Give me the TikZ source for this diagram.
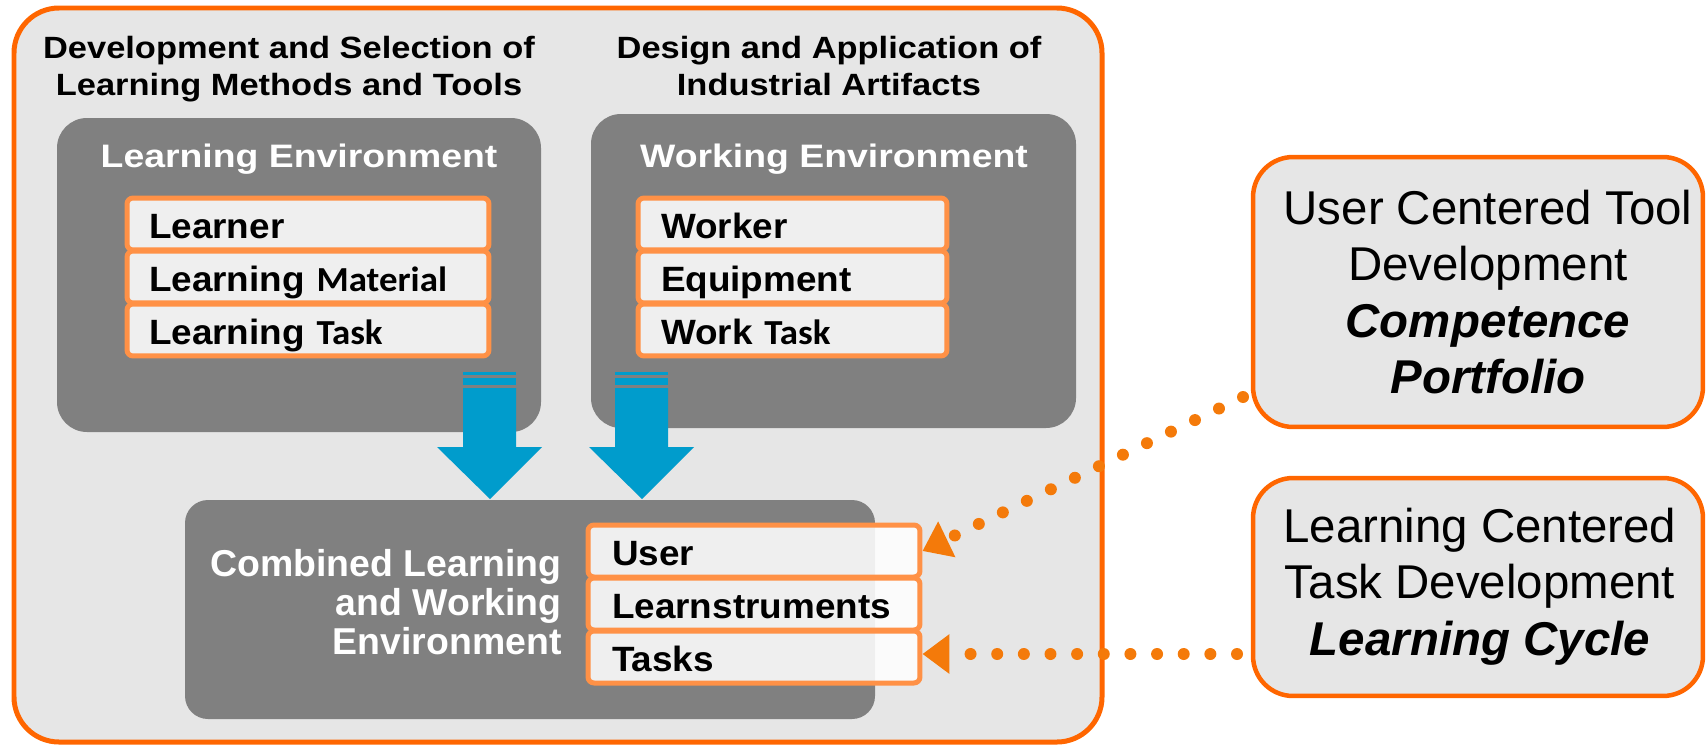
\documentclass[tikz,border=0pt]{standalone}
\usepackage{fontspec}
\setmainfont{Liberation Sans}
\newfontfamily\headsans{Liberation Sans}[FakeStretch=1.12]
\newfontfamily\titlesans{Liberation Sans}[FakeStretch=1.15]
\newfontfamily\itemsans{Liberation Sans}[FakeStretch=1.05]
\newfontfamily\calsans{Carlito}[FakeStretch=1.05]
\usetikzlibrary{arrows.meta}
\definecolor{frameorange}{RGB}{255,102,0}
\definecolor{itemorange}{RGB}{255,145,70}
\definecolor{dotorange}{RGB}{244,122,10}
\definecolor{panelgray}{RGB}{230,230,230}
\definecolor{envgray}{RGB}{128,128,128}
\definecolor{flowblue}{RGB}{0,156,204}

\begin{document}
\begin{tikzpicture}[x=0.02cm,y=-0.02cm,
    header/.style={font=\headsans\bfseries\fontsize{17.5}{21}\selectfont,
        align=center, anchor=north, inner sep=0pt},
    envtitle/.style={font=\titlesans\bfseries\fontsize{18.5}{22}\selectfont,
        text=white, anchor=base, inner sep=0pt},
    item/.style={draw=itemorange, line width=0.1cm, fill=white,
        fill opacity=0.88, text opacity=1, rounded corners=0.12cm,
        minimum height=1.04cm, text height=0.7cm, text depth=0.14cm,
        inner ysep=0.05cm, align=left,
        font=\itemsans\bfseries\fontsize{20}{24}\selectfont},
    leftitem/.style={item, inner xsep=0.44cm, text width=6.36cm},
    rightitem/.style={item, inner xsep=0.46cm, text width=5.26cm},
    combitem/.style={item, inner xsep=0.48cm, text width=5.68cm},
    sidebox/.style={draw=frameorange, line width=0.09cm, fill=panelgray,
        rounded corners=0.8cm, minimum width=9cm},
    sidetext/.style={font=\fontsize{27}{32}\selectfont, align=center,
        anchor=north, inner sep=0pt},
    link/.style={dotorange, line width=0.24cm, line cap=round,
        dash pattern=on 0pt off 0.533cm,
        -{Triangle[length=0.54cm,width=0.76cm]}},
    ]
    \useasboundingbox (0,0) rectangle (1707,747);

    % Outer panel
    \draw[frameorange, line width=0.1cm, fill=panelgray, rounded corners=0.9cm]
        (14,8) rectangle (1102,742);

    % Column headers
    \node[header] (devhead) at (289,36) {Development and Selection of\\Learning Methods and Tools};
    \node[header] (deshead) at (829,36) {Design and Application of\\Industrial Artifacts};

    % Environments
    \fill[envgray, rounded corners=0.6cm] (57,118) rectangle (541,432);
    \fill[envgray, rounded corners=0.6cm] (591,114) rectangle (1076,428);
    \node[envtitle] (learnenv) at (299,167) {Learning Environment};
    \node[envtitle] (workenv) at (834,167) {Working Environment};

    \node[leftitem] (learner) at (308,224) {Learner};
    \node[leftitem] (lmaterial) at (308,277) {Learning {\calsans Material}};
    \node[leftitem] (ltask) at (308,330) {Learning {\calsans Task}};

    \node[rightitem] (worker) at (792.5,224) {Worker};
    \node[rightitem] (equipment) at (792.5,277) {Equipment};
    \node[rightitem] (wtask) at (792.5,330) {Work {\calsans Task}};

    % Block arrows
    \fill[flowblue] (463,372) rectangle (516,375);
    \fill[flowblue] (463,378) rectangle (516,385);
    \fill[flowblue] (463,388) -- (516,388) -- (516,447) -- (542,447)
        -- (490,499) -- (437,447) -- (463,447) -- cycle;
    \fill[flowblue] (615,372) rectangle (668,375);
    \fill[flowblue] (615,378) rectangle (668,385);
    \fill[flowblue] (615,388) -- (668,388) -- (668,447) -- (694,447)
        -- (642,499) -- (589,447) -- (615,447) -- cycle;

    % Combined environment
    \fill[envgray, rounded corners=0.46cm] (185,500) rectangle (875,719);
    \node[font=\bfseries\fontsize{21.3}{22.2}\selectfont, text=white,
        align=right, anchor=north east, inner sep=0pt] (combined) at (562,549)
        {Combined Learning\\and Working\\Environment};

    \node[combitem] (cuser) at (754,551) {User};
    \node[combitem] (cinstr) at (754,604) {Learnstruments};
    \node[combitem] (ctasks) at (754,657) {Tasks};

    % Side boxes
    \node[sidebox, minimum height=5.4cm] (ucbox) at (1478,292) {};
    \node[sidetext] (uctext) at (1488,190)
        {User Centered Tool\\Development\\{\bfseries\itshape Competence}\\{\bfseries\itshape Portfolio}};
    \node[sidebox, minimum height=4.36cm] (lcbox) at (1478,587) {};
    \node[sidetext] (lctext) at (1480,508)
        {Learning Centered\\Task Development\\{\bfseries\itshape Learning Cycle}};

    % Dotted pointers
    \coordinate (ucfoot) at (1243,397);
    \coordinate (lcfoot) at (1237,654);
    \draw[link] (ucfoot) -- (cuser.east);
    \draw[link] (lcfoot) -- (lcfoot -| ctasks.east);

\end{tikzpicture}
\end{document}
